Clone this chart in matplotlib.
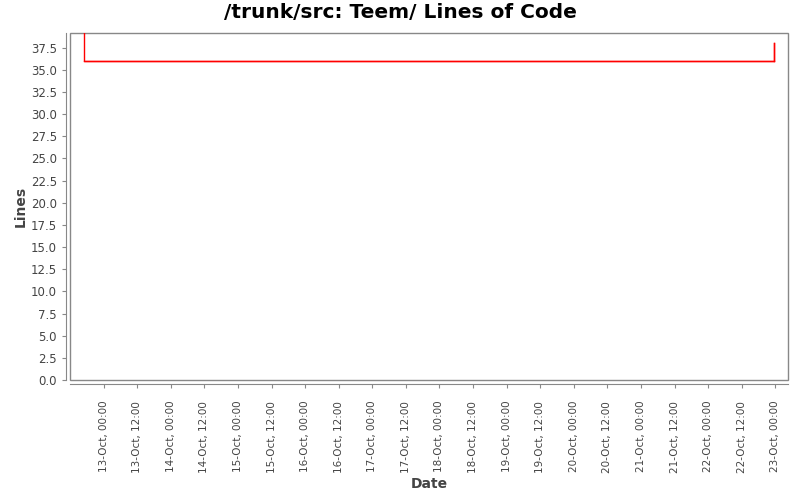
import matplotlib
matplotlib.use("Agg")
import matplotlib.pyplot as plt
import matplotlib.dates as mdates
import matplotlib.patches as mpatches
import pandas as pd

# Datos
fechas = pd.to_datetime(["2012-10-12 17:00", "2012-10-12 17:05", "2012-10-22 23:30"])
lineas = [39.5, 36, 38]

x_min = pd.Timestamp("2012-10-12 12:00")
x_max = pd.Timestamp("2012-10-23 04:30")
ticks = pd.date_range("2012-10-13 00:00", "2012-10-23 00:00", freq="12h")

plt.rcParams["font.family"] = ["DejaVu Sans"]
gris = "#444444"

fig = plt.figure(figsize=(8, 5), dpi=100)
ax = fig.add_axes([0.0875, 0.24, 0.8975, 0.6933])

# paso: horizontal y luego vertical (como XYStepRenderer)
ax.step(fechas, lineas, where="post", color="red", linewidth=1)
ax.plot([fechas[-2], fechas[-1]], [lineas[-2], lineas[-2]], color="red", linewidth=1)
ax.plot([fechas[-1], fechas[-1]], [lineas[-2], lineas[-1]], color="red", linewidth=1)

ax.set_xlim(x_min, x_max)
ax.set_ylim(0, 39.1)
ax.set_yticks([i * 2.5 for i in range(16)])
ax.yaxis.set_major_formatter(matplotlib.ticker.FormatStrFormatter("%.1f"))
ax.set_xticks(ticks)
ax.xaxis.set_major_formatter(mdates.DateFormatter("%d-%b, %H:%M"))
ax.tick_params(axis="x", labelrotation=90)

# ejes desplazados y marco del área de trazado
for s in ["top", "right"]:
    ax.spines[s].set_visible(False)
for s in ["left", "bottom"]:
    ax.spines[s].set_position(("outward", 3))
    ax.spines[s].set_color("#888888")
ax.add_patch(mpatches.Rectangle((0, 0), 1, 1, transform=ax.transAxes, fill=False,
                                edgecolor="#888888", linewidth=1, clip_on=False))

ax.tick_params(axis="both", colors="#888888", labelcolor=gris, length=3)
ax.tick_params(axis="y", labelsize=8.5)
ax.tick_params(axis="x", labelsize=7.5, pad=9)

ax.set_xlabel("Date", fontsize=10, color=gris, fontweight="bold", labelpad=3)
ax.set_ylabel("Lines", fontsize=10, color=gris, fontweight="bold", labelpad=2)
fig.suptitle("/trunk/src: Teem/ Lines of Code", fontsize=14.5, fontweight="bold", y=0.995)

fig.savefig("out.png", dpi=100, facecolor="white")
